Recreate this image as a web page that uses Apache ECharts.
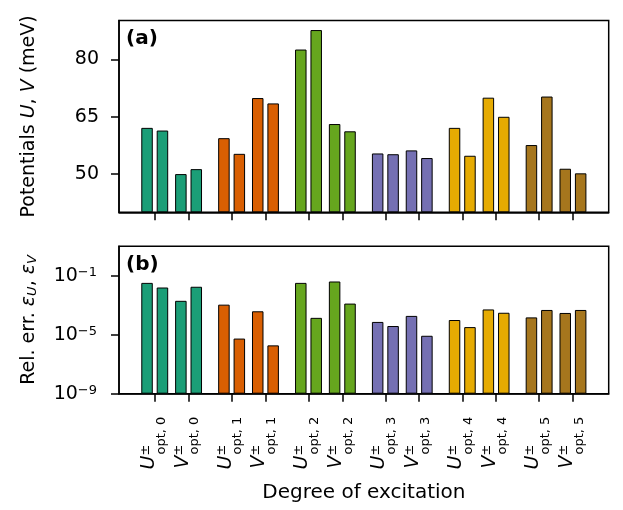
<!DOCTYPE html>
<html><head><meta charset="utf-8">
<script src="https://cdn.jsdelivr.net/npm/echarts@6/dist/echarts.min.js"></script>
<style>html,body{margin:0;padding:0;background:#fff}#c{width:623px;height:510px}</style>
</head><body><div id="c"></div>
<script>
// ---- data ----
const degrees = [0, 1, 2, 3, 4, 5];
const groupColors = ['#1b9e77', '#d95f02', '#66a61e', '#7570b3', '#e6ab02', '#a6761d'];
// (a) optimal potentials, meV  (first bar of each pair = "+", second = "−")
const U_plus  = [62.1, 59.4, 82.6, 55.4, 62.1, 57.6];
const U_minus = [61.4, 55.3, 87.7, 55.2, 54.8, 70.3];
const V_plus  = [50.0, 69.9, 63.1, 56.2, 70.0, 51.4];
const V_minus = [51.3, 68.5, 61.2, 54.2, 65.0, 50.2];
// (b) relative errors
const errU_plus  = [3.3e-2, 1.1e-3, 3.3e-2, 7.4e-5, 1.0e-4, 1.5e-4];
const errU_minus = [1.6e-2, 5.5e-6, 1.4e-4, 3.9e-5, 3.3e-5, 4.8e-4];
const errV_plus  = [2.0e-3, 3.9e-4, 4.1e-2, 1.9e-4, 5.2e-4, 3.0e-4];
const errV_minus = [1.8e-2, 1.9e-6, 1.3e-3, 8.5e-6, 3.1e-4, 4.8e-4];
const potTicks = [50, 65, 80];
const errTicks = [1e-9, 1e-5, 1e-1];

// ---- layout helpers ----
const FONT = 'DejaVu Sans';
const HALF = 0.22; // U / V offset around each degree
const tickPos = [], tickText = [];
degrees.forEach((d, k) => {
  tickPos.push(k - HALF); tickText.push('{u|U}{pm|±}{sub|opt, ' + d + '}');
  tickPos.push(k + HALF); tickText.push('{u|V}{pm|±}{sub|opt, ' + d + '}');
});
function pairData(Uarr, Varr) {
  const out = [];
  degrees.forEach((d, k) => {
    out.push({ value: [k - HALF, Uarr[k]], itemStyle: { color: groupColors[k] } });
    out.push({ value: [k + HALF, Varr[k]], itemStyle: { color: groupColors[k] } });
  });
  return out;
}
const axisLineStyle = { color: '#000', width: 1.5 };
function xAxisCfg(gridIndex, withLabels) {
  return {
    type: 'value', gridIndex, min: -0.685, max: 5.685,
    axisLine: { show: true, onZero: false, lineStyle: axisLineStyle },
    axisTick: { show: true, customValues: tickPos, length: 8, lineStyle: axisLineStyle },
    splitLine: { show: false },
    axisLabel: withLabels ? {
      show: true, customValues: tickPos, rotate: 90, margin: 23, color: '#000',
      formatter: v => {
        let b = 0;
        tickPos.forEach((p, i) => { if (Math.abs(p - v) < Math.abs(tickPos[b] - v)) b = i; });
        return tickText[b];
      },
      rich: {
        u: { fontFamily: FONT, fontStyle: 'italic', fontSize: 19, height: 14, lineHeight: 26, align: 'left', verticalAlign: 'top', color: '#000' },
        pm: { fontFamily: FONT, fontSize: 13, height: 7, lineHeight: 7, width: 1, align: 'left', verticalAlign: 'top', color: '#000' },
        sub: { fontFamily: FONT, fontSize: 13, height: 13, lineHeight: 13, align: 'left', verticalAlign: 'bottom', color: '#000' }
      }
    } : { show: false },
    name: withLabels ? 'Degree of excitation' : '',
    nameLocation: 'middle', nameGap: 89,
    nameTextStyle: { fontFamily: FONT, fontSize: 20, color: '#000' }
  };
}
const barBase = { type: 'bar', barWidth: 11.5, barGap: '34%', itemStyle: { borderColor: '#000', borderWidth: 1 } };

const chart = echarts.init(document.getElementById('c'), null, { renderer: 'canvas' });
chart.setOption({
  animation: false,
  backgroundColor: '#fff',
  textStyle: { fontFamily: FONT },
  title: [
    { text: '(a)', left: 126, top: 29, padding: 0, textStyle: { fontFamily: FONT, fontWeight: 'bold', fontSize: 20, color: '#000' } },
    { text: '(b)', left: 126, top: 255, padding: 0, textStyle: { fontFamily: FONT, fontWeight: 'bold', fontSize: 20, color: '#000' } }
  ],
  grid: [
    { left: 119, right: 14.3, top: 20.5, height: 191.8, show: true, borderColor: '#000', borderWidth: 1.5, backgroundColor: 'transparent' },
    { left: 119, right: 14.3, top: 246.3, height: 147.4, show: true, borderColor: '#000', borderWidth: 1.5, backgroundColor: 'transparent' }
  ],
  xAxis: [xAxisCfg(0, false), xAxisCfg(1, true)],
  yAxis: [
    {
      type: 'value', gridIndex: 0, min: 40, max: 90.2, startValue: 40,
      axisLine: { show: true, onZero: false, lineStyle: axisLineStyle },
      axisTick: { show: true, customValues: potTicks, length: 8, lineStyle: axisLineStyle },
      axisLabel: { customValues: potTicks, margin: 20, fontFamily: FONT, fontSize: 19, color: '#000' },
      splitLine: { show: false },
      name: 'Potentials {i|U}, {i|V} (meV)', nameLocation: 'middle', nameGap: 80, nameRotate: 90,
      nameTextStyle: { fontFamily: FONT, fontSize: 19, color: '#000',
        rich: { i: { fontFamily: FONT, fontStyle: 'italic', fontSize: 19, color: '#000' } } }
    },
    {
      type: 'log', logBase: 10, gridIndex: 1, min: 1e-9, max: 10, startValue: 1e-9,
      axisLine: { show: true, onZero: false, lineStyle: axisLineStyle },
      axisTick: { show: true, customValues: errTicks, length: 8, lineStyle: axisLineStyle },
      axisLabel: {
        customValues: errTicks, margin: 22, color: '#000',
        formatter: v => {
          const e = v > 0 ? Math.round(Math.log10(v)) : Math.round(v);
          return '{b|10}{s|' + (e < 0 ? '−' + (-e) : e) + '}';
        },
        rich: {
          b: { fontFamily: FONT, fontSize: 19, lineHeight: 19, verticalAlign: 'bottom', color: '#000' },
          s: { fontFamily: FONT, fontSize: 13, lineHeight: 13, padding: [0, 0, 11, 0], verticalAlign: 'top', color: '#000' }
        }
      },
      splitLine: { show: false },
      name: 'Rel. err. {i|ε}{s|U}, {i|ε}{s|V}', nameLocation: 'middle', nameGap: 80, nameRotate: 90,
      nameTextStyle: { fontFamily: FONT, fontSize: 19, color: '#000',
        rich: {
          i: { fontFamily: FONT, fontStyle: 'italic', fontSize: 19, lineHeight: 19, color: '#000' },
          s: { fontFamily: FONT, fontStyle: 'italic', fontSize: 13, lineHeight: 13, padding: [8, 0, 0, 0], verticalAlign: 'bottom', color: '#000' }
        } }
    }
  ],
  series: [
    Object.assign({ name: '+', xAxisIndex: 0, yAxisIndex: 0, data: pairData(U_plus, V_plus) }, barBase),
    Object.assign({ name: '−', xAxisIndex: 0, yAxisIndex: 0, data: pairData(U_minus, V_minus) }, barBase),
    Object.assign({ name: '+ err', xAxisIndex: 1, yAxisIndex: 1, data: pairData(errU_plus, errV_plus) }, barBase),
    Object.assign({ name: '− err', xAxisIndex: 1, yAxisIndex: 1, data: pairData(errU_minus, errV_minus) }, barBase)
  ]
});
</script>
</body></html>
